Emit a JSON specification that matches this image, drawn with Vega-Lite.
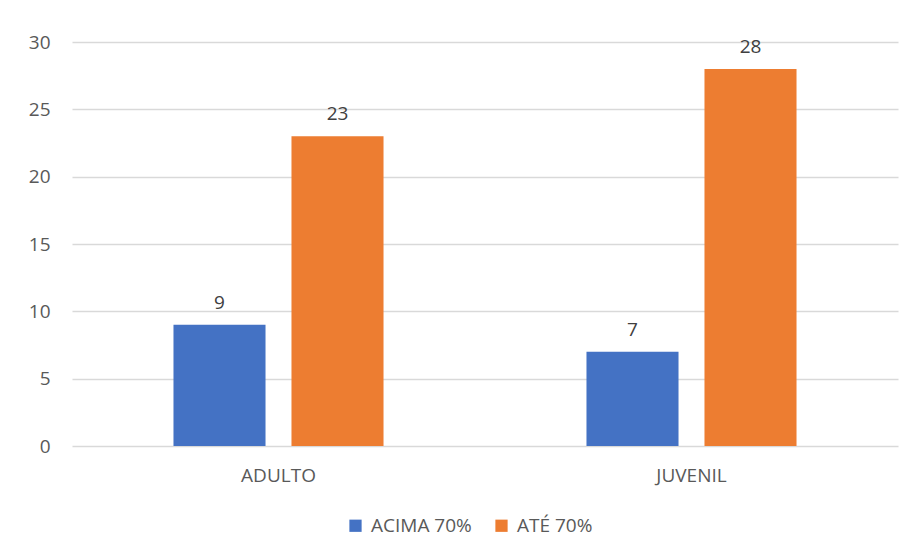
{
  "$schema": "https://vega.github.io/schema/vega-lite/v6.json",
  "width": 826,
  "height": 404,
  "autosize": {"type": "none"},
  "padding": {"left": 72, "top": 42, "right": 13, "bottom": 110},
  "background": "white",
  "config": {
    "view": {"stroke": null},
    "font": "Open Sans",
    "axis": {"labelFont": "Open Sans", "labelColor": "#595959", "labelFontSize": 19}
  },
  "data": {
    "values": [
      {"grupo": "ADULTO", "serie": "ACIMA 70%", "valor": 9},
      {"grupo": "ADULTO", "serie": "ATÉ 70%", "valor": 23},
      {"grupo": "JUVENIL", "serie": "ACIMA 70%", "valor": 7},
      {"grupo": "JUVENIL", "serie": "ATÉ 70%", "valor": 28}
    ]
  },
  "encoding": {
    "x": {
      "field": "grupo", "type": "nominal", "title": null,
      "scale": {"paddingInner": 0, "paddingOuter": 0},
      "axis": {"labelAngle": 0, "ticks": false, "domain": false, "labelPadding": 20}
    },
    "xOffset": {
      "field": "serie", "type": "nominal",
      "scale": {"paddingInner": 0.22, "paddingOuter": 0.86}
    },
    "y": {
      "field": "valor", "type": "quantitative", "title": null,
      "scale": {"domain": [0, 30]},
      "axis": {"values": [0, 5, 10, 15, 20, 25, 30], "ticks": false, "domain": false, "labelPadding": 22, "gridColor": "#d9d9d9", "gridWidth": 1.5}
    }
  },
  "layer": [
    {
      "mark": {"type": "bar"},
      "encoding": {
        "color": {
          "field": "serie", "type": "nominal",
          "scale": {"domain": ["ACIMA 70%", "ATÉ 70%"], "range": ["#4472C4", "#ED7D31"]},
          "legend": {
            "title": null, "orient": "none", "direction": "horizontal",
            "legendX": 274, "legendY": 474,
            "symbolType": "square", "symbolSize": 150, "symbolStrokeWidth": 0,
            "labelFontSize": 19, "labelColor": "#595959", "labelFont": "Open Sans",
            "columnPadding": 20, "labelOffset": 6
          }
        }
      }
    },
    {
      "mark": {"type": "text", "baseline": "bottom", "dy": -12, "fontSize": 19, "color": "#404040", "font": "Open Sans"},
      "encoding": {"text": {"field": "valor", "type": "quantitative"}}
    }
  ]
}
